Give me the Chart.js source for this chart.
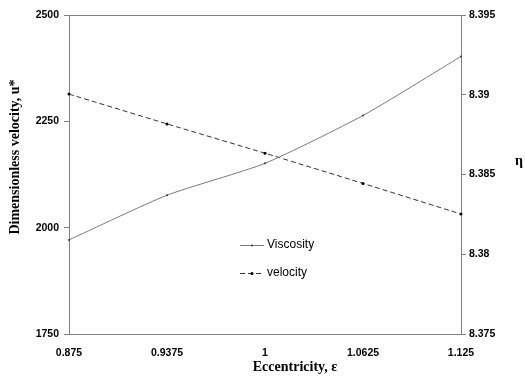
<!DOCTYPE html>
<html><head><meta charset="utf-8">
<script src="https://cdn.jsdelivr.net/npm/chart.js@4.4.0/dist/chart.umd.min.js"></script>
<style>html,body{margin:0;padding:0;background:#fff}#wrap{width:525px;height:385px}</style>
</head><body><div id="wrap"><canvas id="c" width="525" height="385"></canvas></div>
<script>
const categories = ['0.875', '0.9375', '1', '1.0625', '1.125'];
const viscosity = [8.3809, 8.3837, 8.3857, 8.3887, 8.3924];
const velocity = [2314, 2244, 2175, 2104, 2032];
const leftTicks = [1750, 2000, 2250, 2500];
const rightTicks = [8.375, 8.38, 8.385, 8.39, 8.395];
const seriesLabels = ['Viscosity', 'velocity'];
const xTitle = 'Eccentricity, \u03b5';
const yLeftTitle = 'Dimensionless velocity, u*';
const yRightTitle = '\u03b7';

const AXIS = '#808080';
const tickFont = {family: '"Liberation Sans", Arial, sans-serif', size: 10.5, weight: 'bold'};
const titleFont = 'bold 14px "Liberation Serif", "Times New Roman", serif';

const extras = {
  id: 'extras',
  afterDraw(chart) {
    const ctx = chart.ctx, a = chart.chartArea;
    ctx.save();
    // top frame line
    ctx.strokeStyle = AXIS; ctx.lineWidth = 1;
    ctx.beginPath(); ctx.moveTo(a.left, Math.round(a.top) + 0.5); ctx.lineTo(a.right, Math.round(a.top) + 0.5); ctx.stroke();
    // titles
    ctx.fillStyle = '#000'; ctx.font = titleFont; ctx.textAlign = 'center'; ctx.textBaseline = 'middle';
    ctx.fillText(xTitle, 295, 367);
    ctx.fillText(yRightTitle, 519, 161);
    ctx.save(); ctx.translate(15, 157); ctx.rotate(-Math.PI / 2); ctx.fillText(yLeftTitle, 0, 0); ctx.restore();
    // legend
    const ds = chart.data.datasets;
    const rows = [245, 273];
    ctx.font = '12px "Liberation Sans", Arial, sans-serif'; ctx.textAlign = 'left';
    ds.forEach((d, i) => {
      const y = rows[i] + 0.5;
      ctx.strokeStyle = d.borderColor; ctx.lineWidth = 1;
      ctx.setLineDash(d.borderDash || []);
      ctx.beginPath(); ctx.moveTo(240, y); ctx.lineTo(264, y); ctx.stroke();
      ctx.setLineDash([]);
      ctx.fillStyle = d.pointBackgroundColor;
      ctx.beginPath(); ctx.arc(252, y, d.pointRadius, 0, Math.PI * 2); ctx.fill();
      ctx.fillStyle = '#000';
      ctx.fillText(d.label, 267, rows[i]);
    });
    ctx.restore();
  }
};

new Chart(document.getElementById('c'), {
  type: 'line',
  data: {
    labels: categories,
    datasets: [
      {label: seriesLabels[0], data: viscosity, yAxisID: 'yR', borderColor: '#7a7a7a', borderWidth: 1,
       pointRadius: 1, pointBackgroundColor: '#333', pointBorderWidth: 0, tension: 0.2, fill: false},
      {label: seriesLabels[1], data: velocity, yAxisID: 'yL', borderColor: '#333333', borderWidth: 1, borderDash: [5, 3],
       pointRadius: 1.5, pointBackgroundColor: '#000', pointBorderWidth: 0, tension: 0.2, fill: false}
    ]
  },
  options: {
    responsive: false, animation: false, devicePixelRatio: 1,
    layout: {padding: {top: 15, left: 0, right: 0, bottom: 0}},
    plugins: {legend: {display: false}, tooltip: {enabled: false}},
    scales: {
      x: {
        type: 'category', offset: false,
        grid: {display: false},
        border: {display: true, color: AXIS, width: 1},
        ticks: {font: tickFont, color: '#000', padding: 5, maxRotation: 0, autoSkip: false},
        afterFit: s => { s.height = 51; }
      },
      yL: {
        position: 'left', min: 1750, max: 2500,
        afterBuildTicks: s => { s.ticks = leftTicks.map(v => ({value: v})); },
        grid: {drawOnChartArea: false, drawTicks: true, tickLength: 5, color: AXIS},
        border: {display: true, color: AXIS, width: 1},
        ticks: {font: tickFont, color: '#000', padding: 5, callback: v => String(v)},
        afterFit: s => { s.width = 69; }
      },
      yR: {
        position: 'right', min: 8.375, max: 8.395,
        afterBuildTicks: s => { s.ticks = rightTicks.map(v => ({value: v})); },
        grid: {drawOnChartArea: false, drawTicks: true, tickLength: 5, color: AXIS},
        border: {display: true, color: AXIS, width: 1},
        ticks: {font: tickFont, color: '#000', padding: 3, callback: v => String(v)},
        afterFit: s => { s.width = 64; }
      }
    }
  },
  plugins: [extras]
});
</script></body></html>
